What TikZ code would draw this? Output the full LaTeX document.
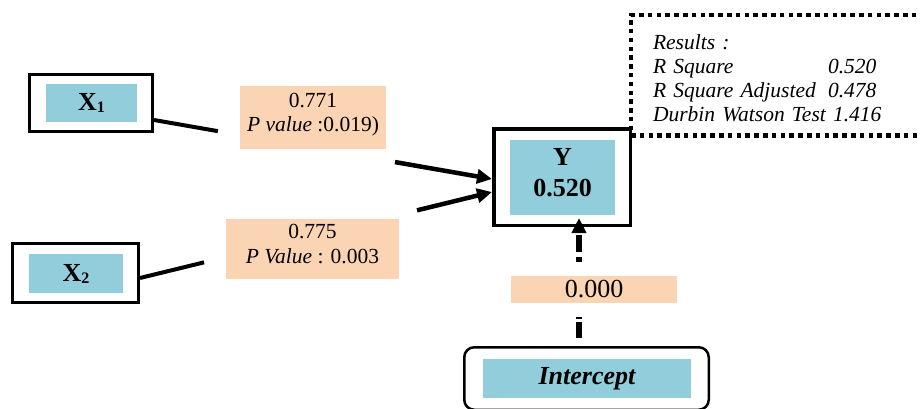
\documentclass[tikz,border=0pt]{standalone}
\usepackage{fontspec}
\setmainfont{Liberation Serif}
\usetikzlibrary{arrows.meta,calc}
\definecolor{aqua}{HTML}{92CDDC}
\definecolor{peach}{HTML}{FBD4B4}
\tikzset{
 obox/.style={draw, line width=3pt, inner sep=0pt},
 ibox/.style={fill=aqua, inner sep=0pt, align=center, font=\fontsize{26}{31}\selectfont\bfseries},
 lbl/.style={fill=peach, inner sep=0pt, align=center, font=\fontsize{21.5}{24.5}\selectfont},
 conn/.style={line width=4pt},
 arr/.style={line width=4.5pt, -{Triangle[length=15pt,width=14pt]}},
 dotbox/.style={draw, line width=4.5pt, dash pattern=on 4.5pt off 4.3pt, outer sep=0pt},
}
\begin{document}
\begin{tikzpicture}[x=1pt,y=-1pt]
\useasboundingbox (0,0) rectangle (920,408);
% X1
\node[obox, minimum width=123pt, minimum height=57pt] (x1o) at (91,103) {};
\node[ibox, minimum width=91pt, minimum height=38pt] (x1) at (91.5,103) {X\raisebox{-2pt}{\fontsize{16}{16}\selectfont 1}};
% X2
\node[obox, minimum width=126pt, minimum height=59pt] (x2o) at (75.5,273) {};
\node[ibox, minimum width=94pt, minimum height=39pt] (x2) at (76,273.5) {X\raisebox{-2pt}{\fontsize{16}{16}\selectfont 2}};
% Y
\node[obox, line width=3.5pt, minimum width=136.5pt, minimum height=96.5pt] (yo) at (562,177) {};
\node[ibox, minimum width=105pt, minimum height=75pt] (y) at (562.5,177.5) {Y\\0.520\rule[-11pt]{0pt}{11pt}};
% Intercept
\node[draw, line width=2.5pt, rounded corners=10pt, minimum width=244.5pt, minimum height=62.5pt] (into) at (586.5,378.5) {};
\node[ibox, font=\fontsize{26}{31}\selectfont\bfseries\itshape, minimum width=208pt, minimum height=39pt] (int) at (587,378.5) {Intercept};
% labels
\node[lbl, font=\fontsize{26}{26}\selectfont, minimum width=166pt, minimum height=27pt] (l0) at (594,289.5) {0.000};
\node[lbl, minimum width=146pt, minimum height=63pt] (l1) at (313,117.5) {0.771\\\textit{P value} :0.019)\rule[-10pt]{0pt}{10pt}};
\node[lbl, minimum width=173pt, minimum height=60pt] (l2) at (312.5,249) {0.775\\\textit{P Value} : 0.003\rule[-10pt]{0pt}{10pt}};
% results
\node[dotbox, anchor=north west, minimum width=320pt, minimum height=120.5pt, inner xsep=22pt, inner ysep=0pt, text width=276pt, align=left, font=\fontsize{21.5}{24}\selectfont\itshape] (res) at (631,15)
 {\rule{0pt}{21pt}Results :\\ \makebox[175pt][l]{R Square}0.520\\ \makebox[175pt][l]{R Square Adjusted}0.478\\ Durbin Watson Test 1.416};
% connectors
\coordinate (a1) at ([yshift=-17pt]x1o.east);
\coordinate (b1) at ([yshift=-2pt]yo.west);
\draw[conn] (a1) -- ($(a1)!0.189!(b1)$);
\draw[arr] ($(a1)!0.713!(b1)$) -- (b1);
\coordinate (a2) at ([yshift=-5pt]x2o.east);
\coordinate (b2) at ([yshift=-15pt]yo.west);
\draw[conn] (a2) -- ($(a2)!0.182!(b2)$);
\draw[arr] ($(a2)!0.787!(b2)$) -- (b2);
\draw[arr, line width=5.5pt, shorten <=14pt, dash pattern=on 5pt off 5pt on 17pt off 5pt] ([xshift=-15pt]l0.north) -- ([xshift=17pt,yshift=9pt]yo.south);
\draw[line width=5.5pt, shorten <=8pt, shorten >=14pt, dash pattern=on 16pt off 3pt on 3pt off 5pt] ([xshift=-7.5pt]into.north) -- ([xshift=-15pt]l0.south);
\end{tikzpicture}
\end{document}
